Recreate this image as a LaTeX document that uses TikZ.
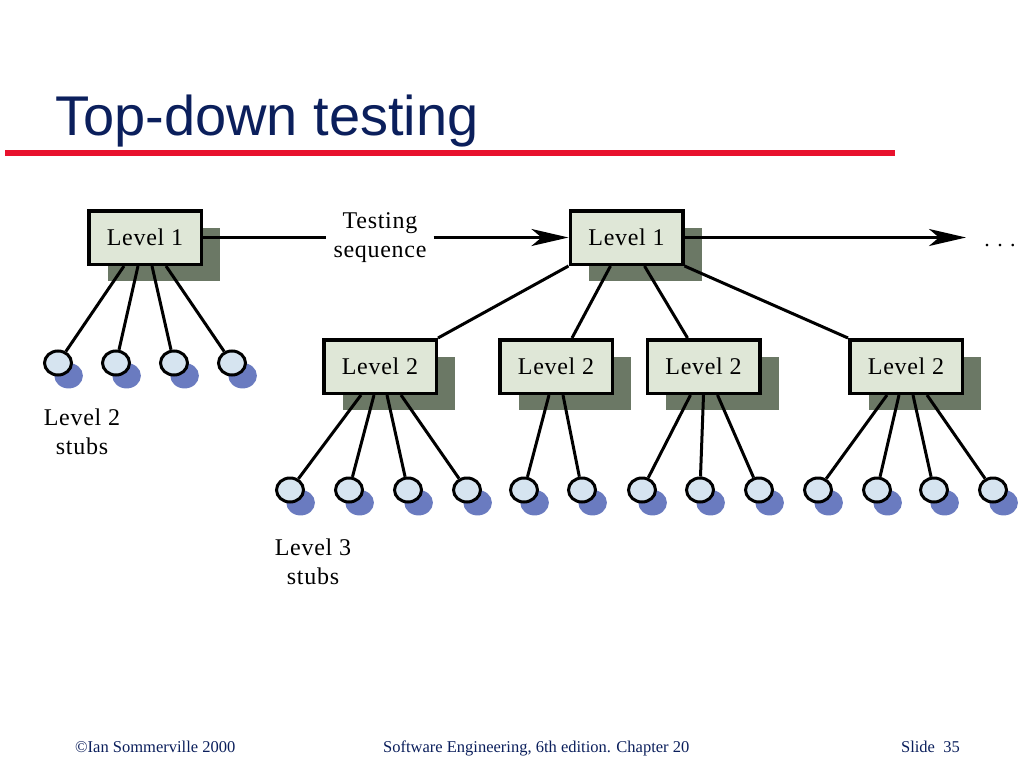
\documentclass[tikz,border=0pt]{standalone}
\usepackage{fontspec}
\setmainfont{Liberation Serif}
\newfontfamily\titlefont{Liberation Sans}
\newfontfamily\spacedfont[LetterSpace=3]{Liberation Serif}
\usetikzlibrary{shadows,arrows.meta,shapes.geometric}
\definecolor{navy}{HTML}{0B1F5C}
\definecolor{redline}{HTML}{E8112D}
\definecolor{boxfill}{HTML}{DFE7D7}
\definecolor{boxsh}{HTML}{6B7865}
\definecolor{stubfill}{HTML}{D6E4F0}
\definecolor{stubsh}{HTML}{6A7BC0}
\begin{document}
\begin{tikzpicture}[x=1pt,y=-1pt,
  levelbox/.style={draw, line width=3.5pt, fill=boxfill, minimum width=112.5pt, minimum height=53.5pt,
    inner sep=0pt, font=\spacedfont\fontsize{24}{26}\selectfont,
    general shadow={shadow xshift=19pt, shadow yshift=-17pt, fill=boxsh}},
  stub/.style={ellipse, draw, line width=3pt, fill=stubfill, minimum width=27pt, minimum height=24pt,
    inner sep=0pt, general shadow={shadow xshift=10pt, shadow yshift=-12pt, shadow scale=1.06, fill=stubsh}},
  link/.style={line width=3pt},
  seqarrow/.style={line width=3pt, -{Stealth[length=37pt,width=17pt,inset=10pt]}},
  label/.style={font=\spacedfont\fontsize{24}{29}\selectfont, align=center, inner sep=0pt},
  foot/.style={font=\fontsize{16.5}{18}\selectfont, text=navy, inner sep=0pt}]
\useasboundingbox (0,0) rectangle (1024,768);
\fill[white] (0,0) rectangle (1024,768);

% title
\node[anchor=base west, inner sep=0pt, text=navy, font=\titlefont\fontsize{56}{60}\selectfont] (title) at (55,135) {Top-down testing};
\draw[redline, line width=6pt] (5,153) -- (895,153);

% level boxes
\node[levelbox] (L1a) at (145,237.5) {Level 1};
\node[levelbox] (L1b) at (626.5,237.5) {Level 1};
\node[levelbox] (L2a) at (380,366.5) {Level 2};
\node[levelbox] (L2b) at (556,366.5) {Level 2};
\node[levelbox] (L2c) at (703.5,366.5) {Level 2};
\node[levelbox] (L2d) at (906,366.5) {Level 2};

% level 2 stubs
\foreach \x [count=\i] in {58,116,174,232}
  \node[stub] (s\i) at (\x,363) {};
% level 3 stubs
\foreach \x [count=\i] in {290,349,408,467,524,582,642,700,759,818,877,934,993}
  \node[stub] (t\i) at (\x,490) {};

% links from first Level 1 to its stubs
\draw[link] ([xshift=-21pt]L1a.south) -- (s1);
\draw[link] ([xshift=-7pt]L1a.south) -- (s2);
\draw[link] ([xshift=7pt]L1a.south) -- (s3);
\draw[link] ([xshift=21pt]L1a.south) -- (s4);

% Level 1 to Level 2
\draw[link] (L1b.south west) -- (L2a.north east);
\draw[link] ([xshift=-16pt]L1b.south) -- ([xshift=16pt]L2b.north);
\draw[link] ([xshift=18pt]L1b.south) -- ([xshift=-16pt]L2c.north);
\draw[link] (L1b.south east) -- (L2d.north west);

% Level 2 to level 3 stubs
\draw[link] ([xshift=-19pt]L2a.south) -- (t1);
\draw[link] ([xshift=-6pt]L2a.south) -- (t2);
\draw[link] ([xshift=7pt]L2a.south) -- (t3);
\draw[link] ([xshift=21pt]L2a.south) -- (t4);
\draw[link] ([xshift=-7pt]L2b.south) -- (t5);
\draw[link] ([xshift=7pt]L2b.south) -- (t6);
\draw[link] ([xshift=-13pt]L2c.south) -- (t7);
\draw[link] (L2c.south) -- (t8);
\draw[link] ([xshift=14pt]L2c.south) -- (t9);
\draw[link] ([xshift=-19pt]L2d.south) -- (t10);
\draw[link] ([xshift=-7pt]L2d.south) -- (t11);
\draw[link] ([xshift=7pt]L2d.south) -- (t12);
\draw[link] ([xshift=21pt]L2d.south) -- (t13);

% testing sequence
\node[label, inner xsep=7pt] (seq) at (380,237.5) {Testing\\sequence};
\draw[link] (L1a.east) -- (seq.west);
\draw[seqarrow] (seq.east) -- (L1b.west);
\coordinate (arrEnd) at (966,237.5);
\draw[seqarrow] (L1b.east) -- (arrEnd);
\node[anchor=base, inner sep=0pt, font=\fontsize{22}{24}\selectfont] (dots) at (1000,246) {. . .};

% stub labels
\node[label] (lab2) at (82,432) {Level 2\\stubs};
\node[label] (lab3) at (313,562) {Level 3\\stubs};

% footer
\node[foot, anchor=base west] (f1) at (75,752) {©Ian Sommerville 2000};
\node[foot, anchor=base west] (f2) at (383,752) {Software Engineering, 6th edition. Chapter 20};
\node[foot, anchor=base east] (f3) at (960,752) {Slide\ \ 35};
\end{tikzpicture}
\end{document}
